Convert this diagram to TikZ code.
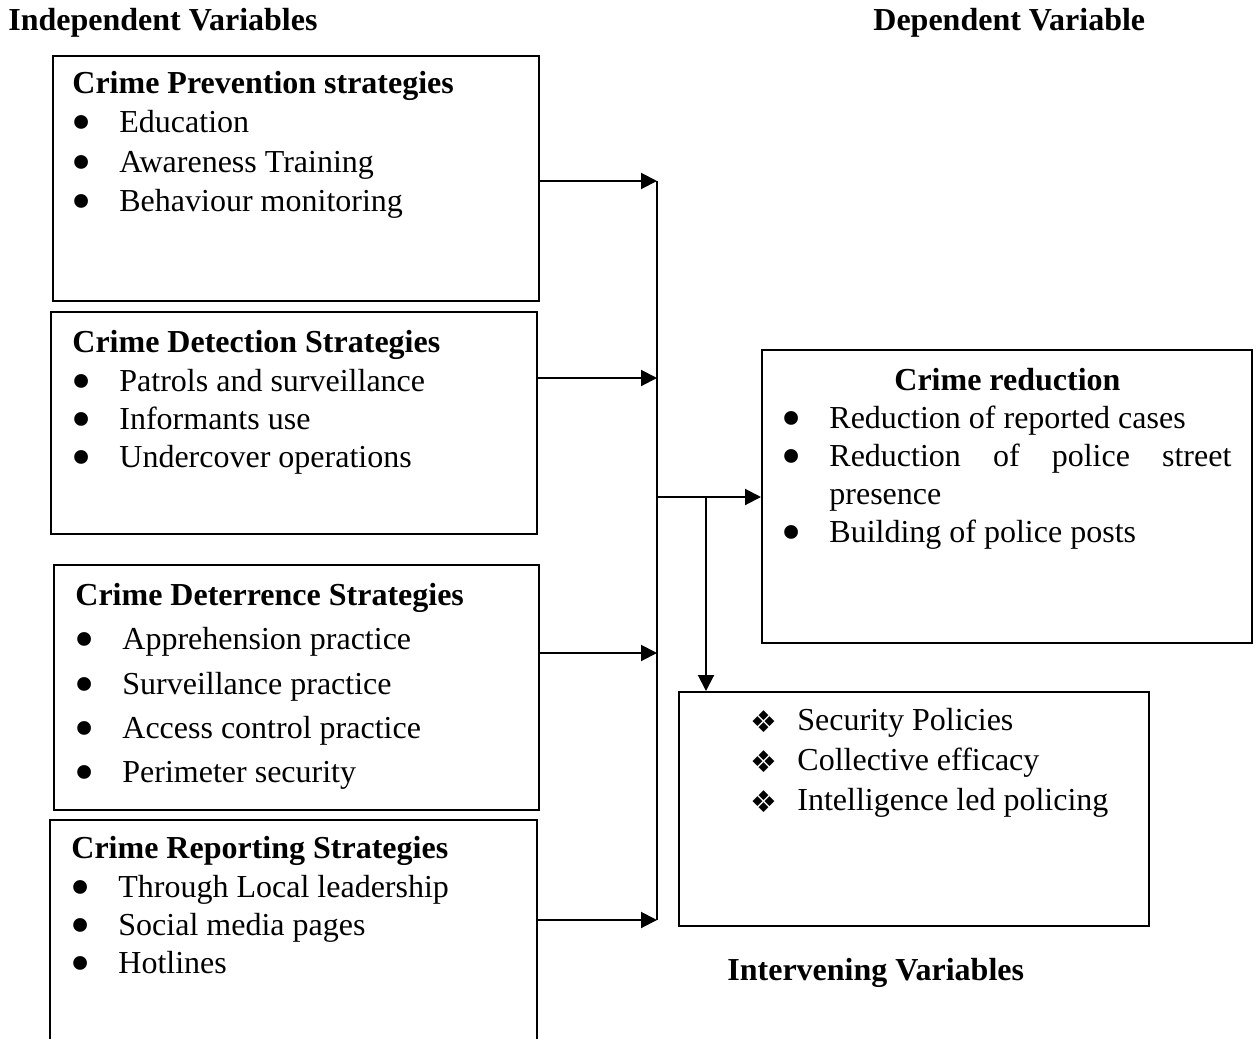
\documentclass[tikz,border=0pt]{standalone}
\usepackage{fontspec}
\setmainfont{Liberation Serif}
\newfontfamily\symfont{DejaVu Sans}
\usepackage{graphicx}
\usepackage{tikz}
\usetikzlibrary{arrows.meta}
\tikzstyle{box} = [draw, line width=1pt, anchor=north west, inner sep=0pt]
\tikzstyle{txt} = [anchor=north west, inner sep=0pt, align=left]
\tikzstyle{arrow} = [-{Triangle[length=8pt, width=8pt]}, line width=1pt]
\newcommand{\lsp}[1]{\fontsize{16pt}{#1}\selectfont}
\newcommand{\bitem}[1]{\makebox[23.5pt][l]{\hspace*{-0.5pt}\smash{\raisebox{-4.5pt}{\scalebox{1.8}{\textbullet}}}}#1}
\newcommand{\ditem}[1]{\makebox[23.5pt][l]{\smash{\raisebox{-1pt}{\symfont\fontsize{15pt}{15pt}\selectfont ❖}}}#1}

\begin{document}
\begin{tikzpicture}[x=0.5pt, y=-0.5pt]
			\useasboundingbox (0,0) rectangle (1257,1038);
			\clip (0,0) rectangle (1257,1038);
			
			% headings
			\node (indep) [txt, font=\lsp{19pt}\bfseries] at (8,8) {Independent Variables};
			\node (dep) [txt, font=\lsp{19pt}\bfseries] at (873,8) {Dependent Variable};
			\node (intv) [txt, font=\lsp{19pt}\bfseries] at (727,958) {Intervening Variables};
			
			% independent variables
			\node (prev) [box, minimum width=243pt, minimum height=122.5pt] at (52,55) {};
			\node (prevtxt) [txt, font=\lsp{19.65pt}] at (72,71) {\textbf{Crime Prevention strategies}\\
				\bitem{Education}\\
				\bitem{Awareness Training}\\
				\bitem{Behaviour monitoring}};
			
			\node (detect) [box, minimum width=243pt, minimum height=111pt] at (50,311) {};
			\node (detecttxt) [txt, font=\lsp{19.2pt}] at (72,330) {\textbf{Crime Detection Strategies}\\
				\bitem{Patrols and surveillance}\\
				\bitem{Informants use}\\
				\bitem{Undercover operations}};
			
			\node (deter) [box, minimum width=242.5pt, minimum height=122.5pt] at (53,564) {};
			\node (detertxt) [txt, font=\lsp{22.1pt}] at (75,583) {\textbf{Crime Deterrence Strategies}\\
				\bitem{Apprehension practice}\\
				\bitem{Surveillance practice}\\
				\bitem{Access control practice}\\
				\bitem{Perimeter security}};
			
			\node (report) [box, minimum width=243.5pt, minimum height=130pt] at (49,819) {};
			\node (reporttxt) [txt, font=\lsp{19.2pt}] at (71,836) {\textbf{Crime Reporting Strategies}\\
				\bitem{Through Local leadership}\\
				\bitem{Social media pages}\\
				\bitem{Hotlines}};
			
			% dependent variable
			\node (reduc) [box, minimum width=245pt, minimum height=146.5pt] at (761,349) {};
			\node (reductxt) [txt, font=\lsp{19pt}] at (782,368) {\makebox[225pt]{\textbf{Crime reduction}}\\
				\bitem{Reduction of reported cases}\\
				\bitem{\makebox[201pt][s]{Reduction of police street}}\\
				\hspace*{23.5pt}presence\\
				\bitem{Building of police posts}};
			
			% intervening variables
			\node (interv) [box, minimum width=235pt, minimum height=117pt] at (678,691) {};
			\node (intervtxt) [txt, font=\lsp{20pt}] at (750,708) {\ditem{Security Policies}\\
				\ditem{Collective efficacy}\\
				\ditem{Intelligence led policing}};
			
			% connectors
			\coordinate (b1) at (657,181);
			\coordinate (b2) at (657,378);
			\coordinate (b3) at (657,653);
			\coordinate (b4) at (657,920);
			\coordinate (bj) at (657,497);
			\coordinate (bk) at (706,497);
			\draw [line width=1pt] (b1) -- (b4);
			\draw [arrow] (b1 -| prev.east) -- (b1);
			\draw [arrow] (b2 -| detect.east) -- (b2);
			\draw [arrow] (b3 -| deter.east) -- (b3);
			\draw [arrow] (b4 -| report.east) -- (b4);
			\draw [arrow] (bj) -- (bj -| reduc.west);
			\draw [arrow] (bk) -- (bk |- interv.north);
		\end{tikzpicture}
\end{document}
